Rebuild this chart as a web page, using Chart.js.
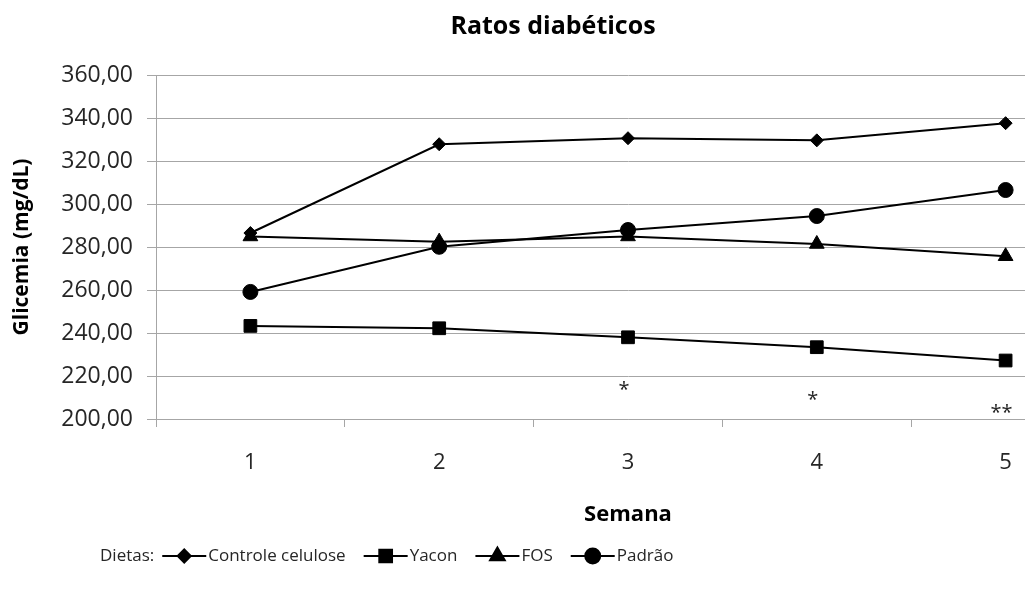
<!DOCTYPE html>
<html>
<head>
<meta charset="utf-8">
<script src="https://cdn.jsdelivr.net/npm/chart.js@4/dist/chart.umd.min.js"></script>
<style>
  html, body { margin: 0; padding: 0; background: #fff; overflow: hidden; width: 1025px; height: 597px; }
  #wrap { position: relative; width: 1110px; height: 597px; }
  canvas { display: block; }
</style>
</head>
<body>
<div id="wrap"><canvas id="grafico" width="1110" height="597"></canvas></div>
<script>
// Glicemia média por semana em ratos diabéticos, por dieta
const semanas = ['1', '2', '3', '4', '5'];
const controleCelulose = [286.5, 327.8, 330.6, 329.6, 337.6];
const yacon = [243.3, 242.2, 238.0, 233.4, 227.2];
const fos = [284.9, 282.5, 284.9, 281.4, 275.7];
const padrao = [259.1, 280.1, 287.9, 294.4, 306.5];
// marcas de significância mostradas abaixo da série Yacon
const significancia = ['', '', '*', '*', '**'];
const yMin = 200, yMax = 360, yPasso = 20;

const FONTE = '"Open Sans", "Noto Sans", sans-serif';
const COR_TEXTO = '#262626';

const series = [
  { label: 'Controle celulose', data: controleCelulose, pointStyle: 'rectRot', pointRadius: 6.5 },
  { label: 'Yacon', data: yacon, pointStyle: 'rect', pointRadius: 9 },
  { label: 'FOS', data: fos, pointStyle: 'triangle', pointRadius: 8.5 },
  { label: 'Padrão', data: padrao, pointStyle: 'circle', pointRadius: 7.5 }
].map(s => Object.assign({
  borderColor: '#000',
  backgroundColor: '#000',
  pointBackgroundColor: '#000',
  pointBorderColor: '#000',
  borderWidth: 2,
  pointBorderWidth: 1,
  tension: 0
}, s));

// asteriscos abaixo dos pontos da série Yacon
const marcasSignificancia = {
  id: 'marcasSignificancia',
  afterDatasetsDraw(chart) {
    const meta = chart.getDatasetMeta(1);
    const ctx = chart.ctx;
    ctx.save();
    ctx.font = '20px ' + FONTE;
    ctx.fillStyle = COR_TEXTO;
    ctx.textAlign = 'center';
    ctx.textBaseline = 'middle';
    significancia.forEach((txt, i) => {
      if (!txt) return;
      const p = meta.data[i];
      ctx.fillText(txt, p.x - 4, p.y + 53);
    });
    ctx.restore();
  }
};

// legenda em linha: "Dietas:" seguido de linha + marcador + nome
const legendaDietas = {
  id: 'legendaDietas',
  afterDraw(chart) {
    const ctx = chart.ctx;
    const y = 556;
    let x = 100;
    ctx.save();
    ctx.font = '17px ' + FONTE;
    ctx.fillStyle = COR_TEXTO;
    ctx.textBaseline = 'middle';
    ctx.textAlign = 'left';
    ctx.fillText('Dietas:', x, y);
    x += ctx.measureText('Dietas:').width + 8;
    chart.data.datasets.forEach(ds => {
      ctx.strokeStyle = '#000';
      ctx.lineWidth = 2;
      ctx.beginPath();
      ctx.moveTo(x, y);
      ctx.lineTo(x + 44, y);
      ctx.stroke();
      ctx.fillStyle = '#000';
      Chart.helpers.drawPoint(ctx, {
        pointStyle: ds.pointStyle,
        radius: ds.pointRadius,
        rotation: 0,
        borderWidth: 1
      }, x + 22, y);
      x += 46;
      ctx.fillStyle = COR_TEXTO;
      ctx.fillText(ds.label, x, y);
      x += ctx.measureText(ds.label).width + 18;
    });
    ctx.restore();
  }
};

new Chart(document.getElementById('grafico'), {
  type: 'line',
  data: { labels: semanas, datasets: series },
  plugins: [marcasSignificancia, legendaDietas],
  options: {
    responsive: false,
    animation: false,
    layout: { padding: { left: 0, right: 4, top: 0, bottom: 58 } },
    plugins: {
      legend: { display: false },
      tooltip: { enabled: false },
      title: {
        display: true,
        text: 'Ratos diabéticos',
        color: '#000',
        font: { family: FONTE, size: 25, weight: 'bold', lineHeight: 1.2 },
        padding: { top: 12, bottom: 33 }
      }
    },
    scales: {
      x: {
        type: 'category',
        offset: true,
        grid: { offset: true, drawOnChartArea: false, drawTicks: true, tickLength: 8, color: '#a6a6a6' },
        border: { color: '#a6a6a6', width: 1 },
        ticks: { color: COR_TEXTO, font: { family: FONTE, size: 22 }, padding: 23, maxRotation: 0 },
        title: {
          display: true, text: 'Semana', color: '#000',
          font: { family: FONTE, size: 22, weight: 'bold', lineHeight: 1.2 },
          padding: { top: 0, bottom: 11 }
        },
        afterFit(scale) { scale.height = 120; }
      },
      y: {
        min: yMin, max: yMax,
        grid: { color: '#a6a6a6', lineWidth: 1, drawTicks: true, tickLength: 9 },
        border: { color: '#a6a6a6', width: 1 },
        ticks: {
          stepSize: yPasso,
          color: COR_TEXTO,
          font: { family: FONTE, size: 23 },
          padding: 14,
          callback: v => v.toFixed(2).replace('.', ',')
        },
        title: {
          display: true, text: 'Glicemia (mg/dL)', color: '#000',
          font: { family: FONTE, size: 21, weight: 'bold', lineHeight: 1.2 },
          padding: { top: 9, bottom: 0 }
        },
        afterFit(scale) { scale.width = 156; }
      }
    }
  }
});
</script>
</body>
</html>
